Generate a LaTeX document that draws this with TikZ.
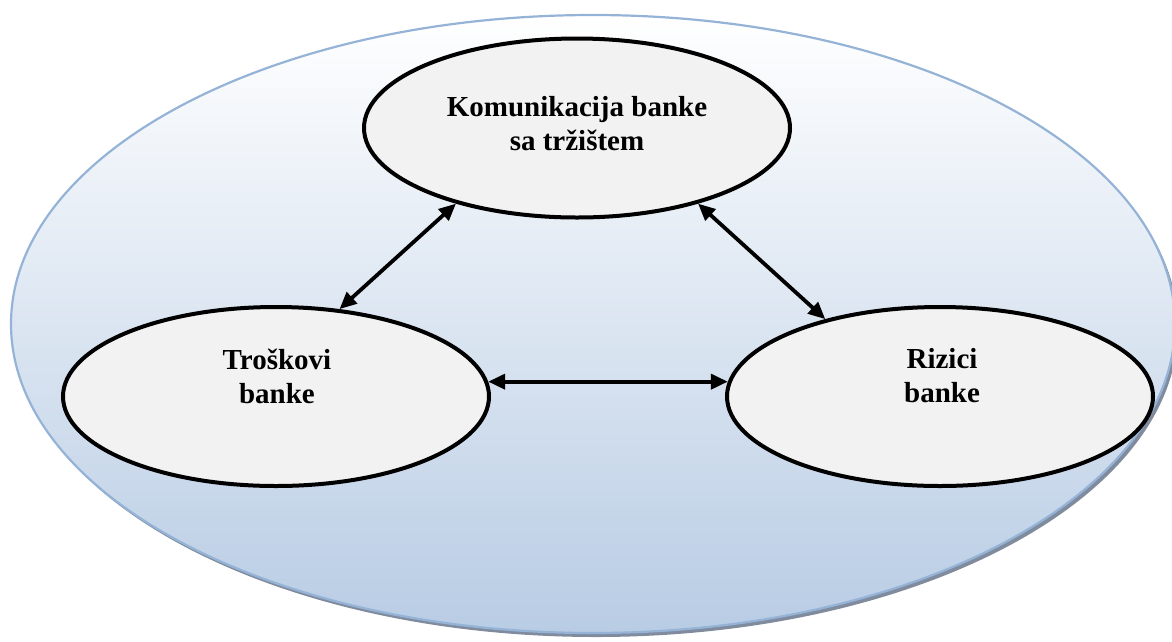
\documentclass[tikz,border=0pt]{standalone}
\usepackage{fontspec}
\setmainfont{Liberation Serif}
\usetikzlibrary{shapes.geometric,arrows.meta}

\definecolor{frameblue}{RGB}{149,179,215}
\definecolor{shadowgray}{RGB}{128,140,158}
\definecolor{lowblue}{RGB}{184,204,228}
\definecolor{bubblefill}{RGB}{242,242,242}

\tikzset{
  bubble/.style={ellipse, draw=black, line width=4pt, fill=bubblefill,
    minimum width=426pt, minimum height=179pt, inner sep=0pt},
  caption/.style={font=\fontsize{29}{33.5}\selectfont\bfseries, align=center,
    anchor=base, inner sep=0pt},
  link/.style={line width=3.8pt, {Triangle[length=17pt,width=15pt]}-{Triangle[length=17pt,width=15pt]}}
}

\begin{document}
\begin{tikzpicture}[x=1pt,y=-1pt]
  \useasboundingbox (0,0) rectangle (1172,641);

  % outer frame with soft drop shadow and vertical gradient
  \fill[shadowgray] (596,328) ellipse [x radius=582, y radius=309];
  \draw[frameblue, line width=2.2pt, top color=white, bottom color=lowblue]
    (593,324) ellipse [x radius=582, y radius=309];

  % the three topics
  \node[bubble] (kom) at (577,128) {};
  \node[bubble] (tro) at (276,396.5) {};
  \node[bubble] (riz) at (940,396.5) {};

  % captions, placed by the baseline of their last line
  \node[caption] (komtxt) at (577,150) {Komunikacija banke\\sa tržištem};
  \node[caption] (trotxt) at (277,403) {Troškovi\\banke};
  \node[caption] (riztxt) at (942,402) {Rizici\\banke};

  % mutual links
  \draw[link] (kom.212) -- (tro.54);
  \draw[link] (kom.328) -- (riz.146);
  \draw[link] (tro.4) -- (riz.176);
\end{tikzpicture}
\end{document}
